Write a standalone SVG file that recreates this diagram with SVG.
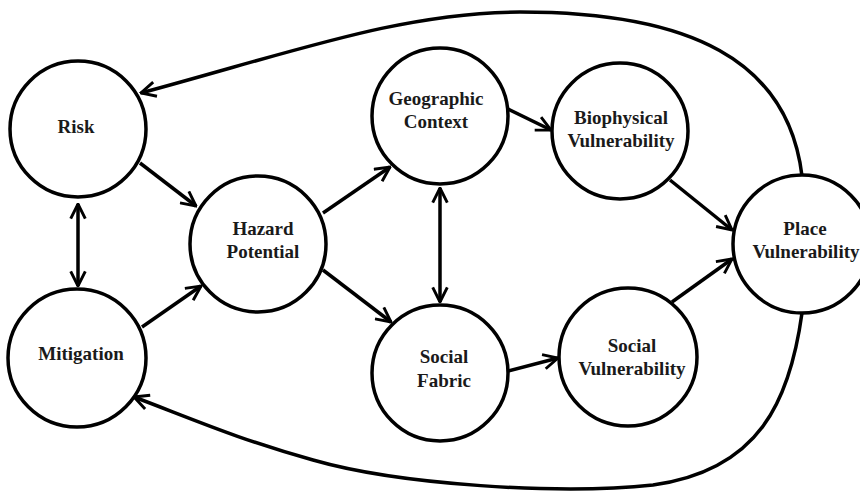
<svg xmlns="http://www.w3.org/2000/svg" width="860" height="493" viewBox="0 0 860 493">
<style>
.node circle{fill:#fff;stroke:#000;stroke-width:3.5}
.node text{font-family:"Liberation Serif","Times New Roman",serif;font-weight:bold;font-size:19px;text-anchor:middle;fill:#1a1a1a}
.edges path{fill:none;stroke:#000;stroke-width:3.5}
</style>
<defs>
<marker id="ah" viewBox="0 0 12 12" refX="11" refY="6" markerWidth="5" markerHeight="5" orient="auto-start-reverse" markerUnits="strokeWidth">
<path d="M1,1 L11,6 L1,11" fill="none" stroke="#000" stroke-width="2"/>
</marker>
</defs>
<rect width="860" height="493" fill="#fff"/>
<g class="edges">
<path d="M802,176 C788,60 690,12 520,12 C400,13 300,50 141,93" marker-end="url(#ah)"/>
<path d="M802,313 C790,400 760,470 653,485 C560,495 400,485 313,460 C240,440 190,418 134,397" marker-end="url(#ah)"/>
<path d="M140,163 L196,206" marker-end="url(#ah)"/>
<path d="M142,327 L201,286" marker-end="url(#ah)"/>
<path d="M78,204 L78,286" marker-start="url(#ah)" marker-end="url(#ah)"/>
<path d="M323,213 L390,167" marker-end="url(#ah)"/>
<path d="M323,270 L391,322" marker-end="url(#ah)"/>
<path d="M440,188 L440,302" marker-start="url(#ah)" marker-end="url(#ah)"/>
<path d="M508,109 L551,130" marker-end="url(#ah)"/>
<path d="M508,371 L558,358" marker-end="url(#ah)"/>
<path d="M670,180 L732,230" marker-end="url(#ah)"/>
<path d="M672,302 L732,259" marker-end="url(#ah)"/>
</g>
<g id="risk" class="node"><circle cx="78" cy="129" r="68"/><text x="76" y="133">Risk</text></g>
<g id="mitigation" class="node"><circle cx="77" cy="358" r="69"/><text x="81" y="360">Mitigation</text></g>
<g id="hazard" class="node"><circle cx="258" cy="244" r="68"/><text x="263" y="235">Hazard</text><text x="263" y="258">Potential</text></g>
<g id="geographic" class="node"><circle cx="440" cy="116" r="68"/><text x="436" y="105">Geographic</text><text x="436" y="128">Context</text></g>
<g id="socialfabric" class="node"><circle cx="440" cy="373" r="68"/><text x="444" y="363">Social</text><text x="444" y="387">Fabric</text></g>
<g id="biophysical" class="node"><circle cx="620" cy="131" r="68"/><text x="621" y="124">Biophysical</text><text x="621" y="147">Vulnerability</text></g>
<g id="socialvuln" class="node"><circle cx="628" cy="357" r="69"/><text x="632" y="352">Social</text><text x="632" y="375">Vulnerability</text></g>
<g id="place" class="node"><circle cx="802" cy="244" r="69"/><text x="805" y="235">Place</text><text x="806" y="258">Vulnerability</text></g>
</svg>
